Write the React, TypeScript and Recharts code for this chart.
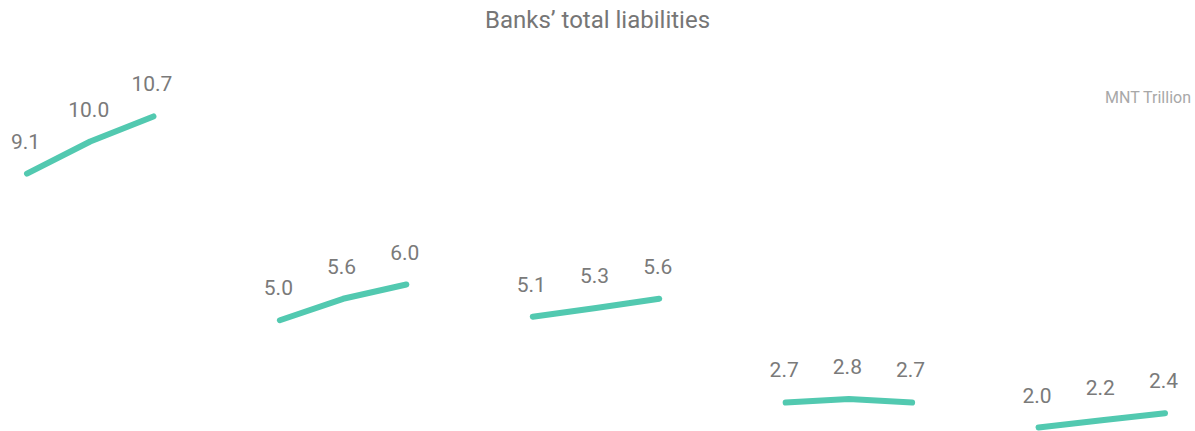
import { LabelList, Line, LineChart, XAxis, YAxis } from "recharts";

const categories = [
  "A1", "A2", "A3", "gap1",
  "B1", "B2", "B3", "gap2",
  "C1", "C2", "C3", "gap3",
  "D1", "D2", "D3", "gap4",
  "E1", "E2", "E3",
];

// values; labels show one decimal
const liabilities: (number | null)[] = [
  9.1, 10.0, 10.7, null,
  5.0, 5.6, 6.0, null,
  5.1, 5.34, 5.6, null,
  2.7, 2.8, 2.7, null,
  2.0, 2.2, 2.4,
];

const data = categories.map((name, i) => ({ name, value: liabilities[i] }));

const textFont = "Roboto, 'Noto Sans', sans-serif";

function ValueLabel(props: any) {
  const { x, y, value } = props;
  if (value == null) return null;
  return (
    <text
      x={x - 1.5}
      y={y - 32}
      textAnchor="middle"
      dominantBaseline="central"
      fontSize={21}
      fontFamily={textFont}
      fill="#7a7a7a"
    >
      {Number(value).toFixed(1)}
    </text>
  );
}

export default function App() {
  return (
    <div
      style={{
        position: "relative",
        width: 1195,
        height: 431,
        overflow: "hidden",
        background: "#fff",
        fontFamily: textFont,
      }}
    >
      <style>{"body{margin:0}"}</style>
      <div
        style={{
          position: "absolute",
          top: 6,
          left: 0,
          width: 1195,
          textAlign: "center",
          fontSize: 24,
          color: "#767676",
        }}
      >
        Banks’ total liabilities
      </div>
      <div
        style={{
          position: "absolute",
          top: 88,
          right: 4,
          fontSize: 16,
          color: "#a8a8a8",
        }}
      >
        MNT Trillion
      </div>
      <div style={{ position: "absolute", top: 0, left: 0 }}>
        <LineChart
          width={1195}
          height={499}
          data={data}
          margin={{ top: 70, right: 30, bottom: 0, left: 27 }}
        >
          <XAxis dataKey="name" hide />
          <YAxis domain={[0, 12]} hide />
          <Line
            type="linear"
            dataKey="value"
            stroke="#52c9b0"
            strokeWidth={6}
            strokeLinecap="round"
            strokeLinejoin="round"
            dot={false}
            activeDot={false}
            connectNulls={false}
            isAnimationActive={false}
          >
            <LabelList dataKey="value" content={<ValueLabel />} />
          </Line>
        </LineChart>
      </div>
    </div>
  );
}
